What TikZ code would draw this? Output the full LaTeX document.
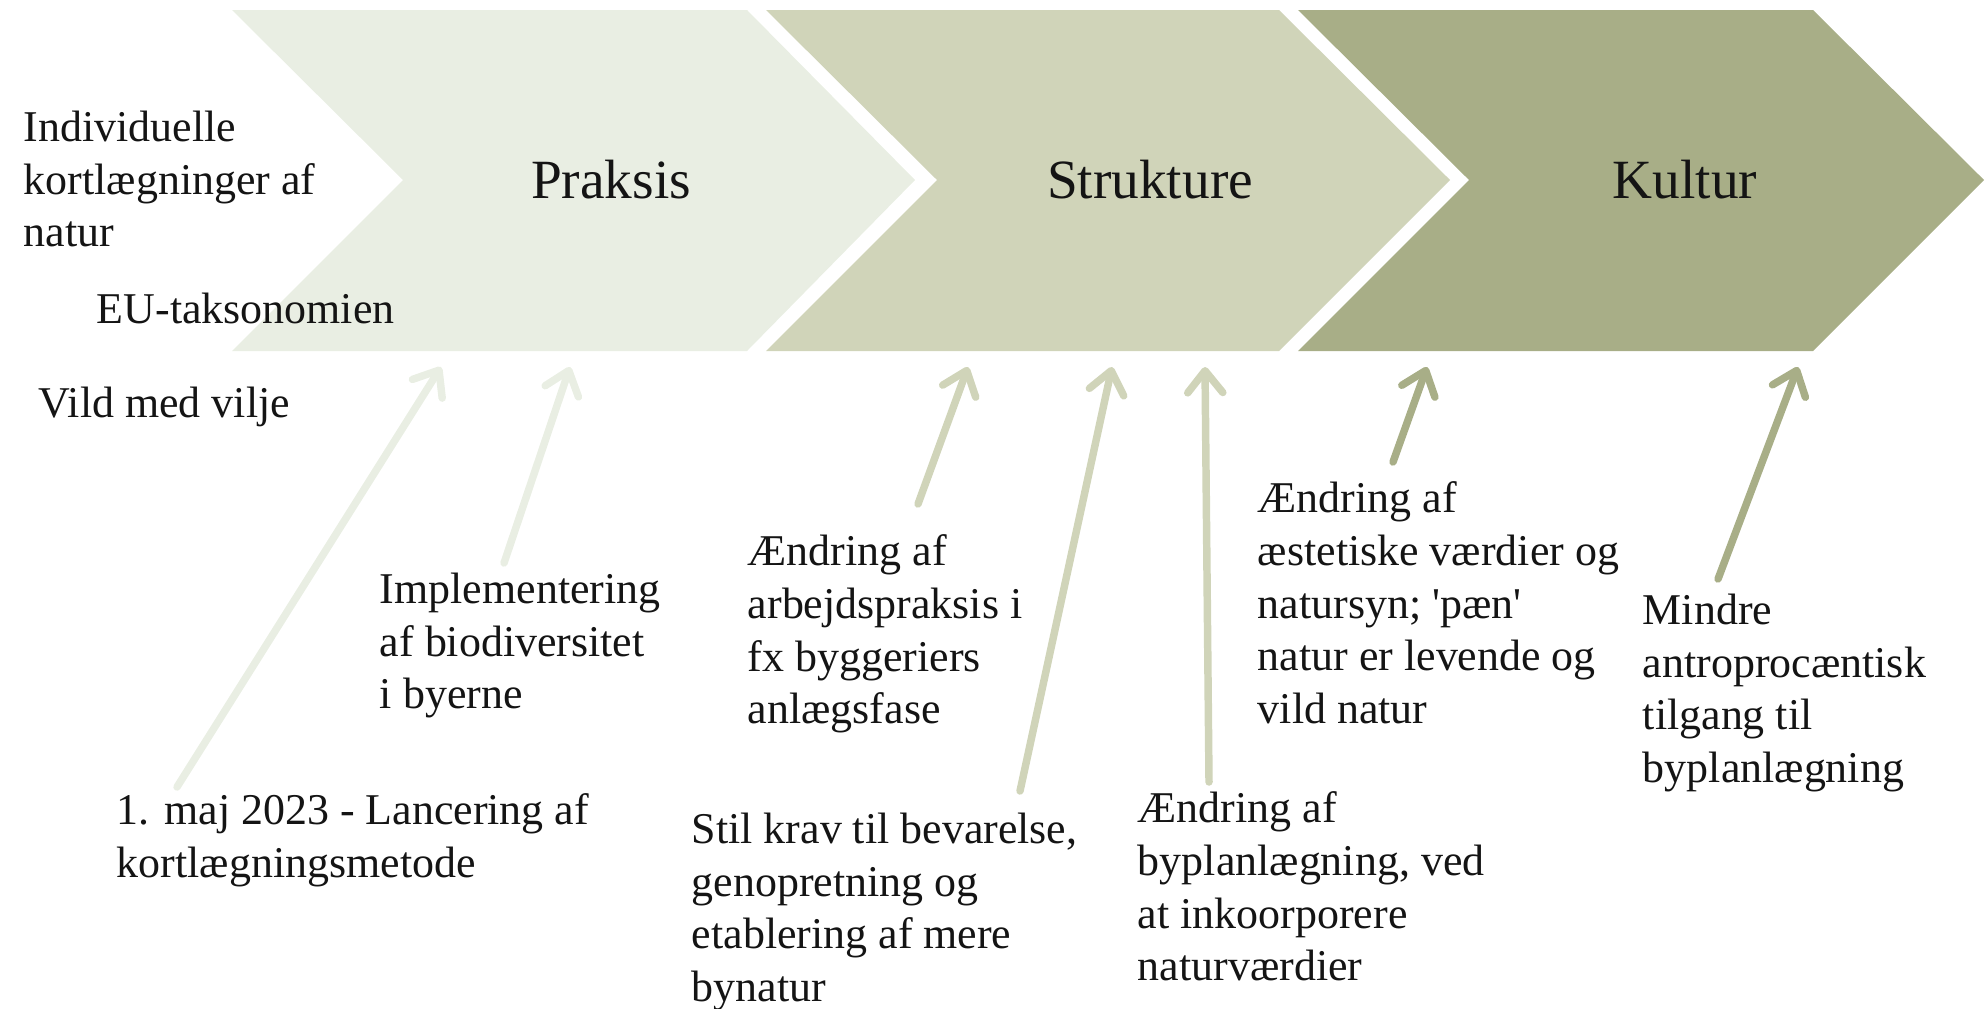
\documentclass[tikz,border=0pt]{standalone}
\usepackage{fontspec}
\setmainfont{Liberation Serif}
\usepackage{xcolor}
\definecolor{praksis-fill}{RGB}{233,238,227}
\definecolor{struktur-fill}{RGB}{208,212,185}
\definecolor{kultur-fill}{RGB}{168,174,135}
\definecolor{text-main}{RGB}{20,20,20}
\usepackage{tikz}
\usetikzlibrary{positioning,arrows.meta,calc}

\begin{document}
\begin{tikzpicture}[
  x=0.8cm, y=0.8cm,
  stage/.style={
    font=\fontsize{12.6}{15}\selectfont,
    text=text-main
  },
  note/.style={
    font=\fontsize{10}{12}\selectfont,
    text=text-main,
    align=left,
    anchor=north west,
    inner sep=0pt
  },
  link/.style={
    line width=1.7pt,
    line cap=round,
    -{Straight Barb[length=5pt,width=8pt,round]}
  }
]
\useasboundingbox (0,0) rectangle (19.85,10.08);

% Chevrons
\fill[praksis-fill] (2.32,9.98) -- (7.47,9.98) -- (9.15,8.28) -- (7.47,6.57) -- (2.32,6.57) -- (4.03,8.28) -- cycle;
\fill[struktur-fill] (7.66,9.98) -- (12.79,9.98) -- (14.50,8.28) -- (12.79,6.57) -- (7.66,6.57) -- (9.37,8.28) -- cycle;
\fill[kultur-fill] (12.98,9.98) -- (18.13,9.98) -- (19.84,8.28) -- (18.13,6.57) -- (12.98,6.57) -- (14.69,8.28) -- cycle;

% Stage labels
\node[stage] (praksis) at (6.11,8.28) {Praksis};
\node[stage] (struktur) at (11.50,8.28) {Strukture};
\node[stage] (kultur) at (16.85,8.28) {Kultur};

% Left notes
\node[note] (indiv) at (0.23,8.98) {Individuelle\\kortlægninger af\\natur};
\node[note] (eutax) at (0.96,7.16) {EU-taksonomien};
\node[note] (vild) at (0.38,6.22) {Vild med vilje};

% Notes below
\node[note] (maj) at (1.16,2.15) {1. maj 2023 - Lancering af\\kortlægningsmetode};
\node[note] (impl) at (3.79,4.36) {Implementering\\af biodiversitet\\i byerne};
\node[note] (arbejd) at (7.47,4.74) {Ændring af\\arbejdspraksis i\\fx byggeriers\\anlægsfase};
\node[note] (stil) at (6.91,1.96) {Stil krav til bevarelse,\\genopretning og\\etablering af mere\\bynatur};
\node[note] (bypl) at (11.37,2.17) {Ændring af\\byplanlægning, ved\\at inkoorporere\\naturværdier};
\node[note] (aestet) at (12.57,5.27) {Ændring af\\æstetiske værdier og\\natursyn; \textquotesingle pæn\textquotesingle\\natur er levende og\\vild natur};
\node[note] (mindre) at (16.42,4.15) {Mindre\\antroprocæntisk\\tilgang til\\byplanlægning};

% Arrow tips under the chevrons
\coordinate (tip1) at (4.41,6.41);
\coordinate (tip2) at (5.70,6.41);
\coordinate (tip3) at (9.68,6.41);
\coordinate (tip4) at (11.12,6.41);
\coordinate (tip5) at (12.05,6.41);
\coordinate (tip6) at (14.27,6.41);
\coordinate (tip7) at (17.98,6.41);

% Arrows
\draw[link, draw=praksis-fill] ($(maj.north west)+(0.61,0.06)$) -- (tip1);
\draw[link, draw=praksis-fill] ($(impl.north west)+(1.25,0.09)$) -- (tip2);
\draw[link, draw=struktur-fill] ($(arbejd.north west)+(1.71,0.30)$) -- (tip3);
\draw[link, draw=struktur-fill] ($(stil.north west)+(3.29,0.21)$) -- (tip4);
\draw[link, draw=struktur-fill] ($(bypl.north west)+(0.72,0.09)$) -- (tip5);
\draw[link, draw=kultur-fill] ($(aestet.north west)+(1.36,0.19)$) -- (tip6);
\draw[link, draw=kultur-fill] ($(mindre.north west)+(0.76,0.14)$) -- (tip7);

\end{tikzpicture}
\end{document}
